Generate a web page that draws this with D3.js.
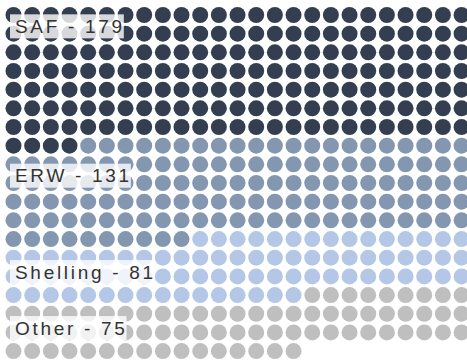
<!DOCTYPE html>
<html>
<head>
<meta charset="utf-8">
<script src="https://cdn.jsdelivr.net/npm/d3@7"></script>
<style>
  html, body { margin: 0; padding: 0; background: #fff; }
  svg { display: block; }
</style>
</head>
<body>
<svg id="chart" width="467" height="363"></svg>
<script>
const categories = ["SAF", "ERW", "Shelling", "Other"];
const values = [179, 131, 81, 75];
const colors = ["#333f50", "#8497b0", "#b4c7e7", "#bfbfbf"];
const columns = 25;

const width = 467, height = 363;
const svg = d3.select("#chart");

// expand into one dot per unit
const dots = [];
categories.forEach((c, i) => {
  for (let k = 0; k < values[i]; k++) dots.push({ cat: c, idx: i });
});
const rows = Math.ceil(dots.length / columns);

const step = 18.67;
const x = d3.scaleLinear().domain([0, columns - 1]).range([13.5, 13.5 + step * (columns - 1)]);
const y = d3.scaleLinear().domain([0, rows - 1]).range([15, 15 + step * (rows - 1)]);
const color = d3.scaleOrdinal().domain(categories).range(colors);

svg.append("g").selectAll("circle")
  .data(dots)
  .join("circle")
  .attr("cx", (d, i) => x(i % columns))
  .attr("cy", (d, i) => y(Math.floor(i / columns)))
  .attr("r", 8)
  .attr("fill", d => color(d.cat));

// labels: placed at first full row of each group
let start = 0;
const labels = categories.map((c, i) => {
  const row = start % columns === 0 ? start / columns : Math.floor(start / columns) + 1;
  start += values[i];
  return { text: c + " - " + values[i], row };
});

const lg = svg.append("g");
labels.forEach(l => {
  const cy = y(l.row) + step / 2 + 2 + (l.row > 10 ? 3 : 0);
  const g = lg.append("g");
  const rect = g.append("rect").attr("fill", "#fff").attr("fill-opacity", 0.8);
  const t = g.append("text")
    .attr("x", 15)
    .attr("y", cy)
    .attr("dy", "0.35em")
    .attr("font-family", "Liberation Sans, Arial, sans-serif")
    .attr("font-size", 19)
    .attr("letter-spacing", 2.7)
    .attr("fill", "#333")
    .text(l.text);
  const bb = t.node().getBBox();
  rect.attr("x", 10).attr("y", cy - 12).attr("width", bb.width + 4).attr("height", 24);
});
</script>
</body>
</html>
